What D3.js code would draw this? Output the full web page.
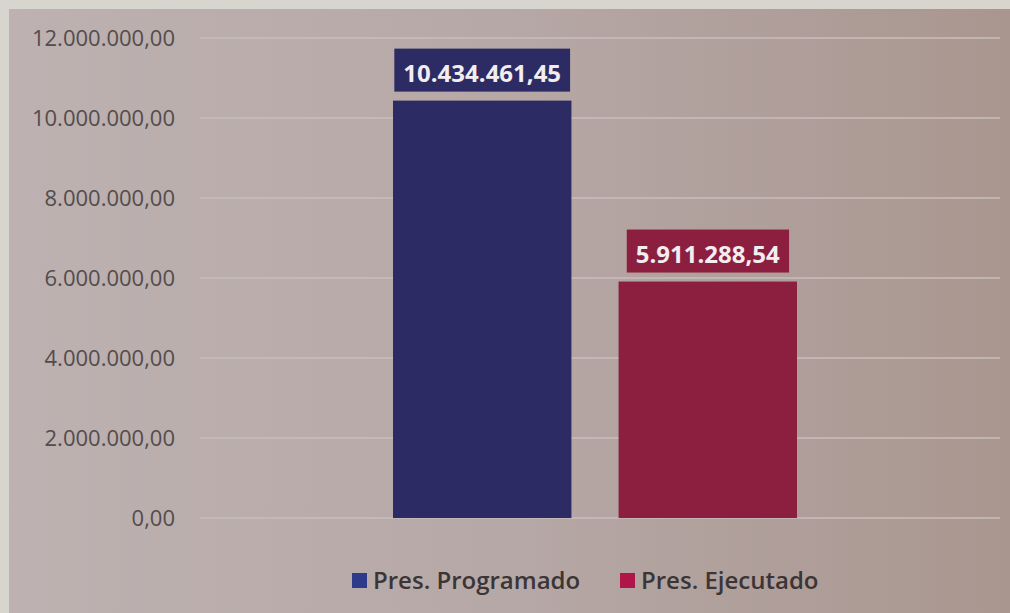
<!DOCTYPE html>
<html>
<head>
<meta charset="utf-8">
<script src="https://cdn.jsdelivr.net/npm/d3@7"></script>
<style>
  body { margin: 0; background: #d8d5cf; }
  svg { display: block; }
</style>
</head>
<body>
<script>
// chart data
var series = ["Pres. Programado", "Pres. Ejecutado"];
var values = [10434461.45, 5911288.54];
var colors = ["#2d2b63", "#8c1e40"];
var yTicks = [0, 2000000, 4000000, 6000000, 8000000, 10000000, 12000000];

function init(){
    var width = 1010;
    var height = 613;

    var esLocale = d3.formatLocale({decimal: ",", thousands: ".", grouping: [3], currency: ["", ""]});
    var fmt = esLocale.format(",.2f");

    var svg = d3.select("body")
                .append("svg")
                .attr("width", width)
                .attr("height", height);

    // photo-like background
    var defs = svg.append("defs");
    var grad = defs.append("linearGradient")
        .attr("id", "bg")
        .attr("x1", "0").attr("x2", "1").attr("y1", "0").attr("y2", "0");
    grad.append("stop").attr("offset", "0").attr("stop-color", "#bdb1b1");
    grad.append("stop").attr("offset", "0.5").attr("stop-color", "#b6a8a6");
    grad.append("stop").attr("offset", "1").attr("stop-color", "#a9968f");

    svg.append("rect")
        .attr("x", 0).attr("y", 0)
        .attr("width", width).attr("height", height)
        .attr("fill", "#d8d5cf");
    svg.append("rect")
        .attr("x", 9).attr("y", 9)
        .attr("width", width - 9).attr("height", height - 9)
        .attr("fill", "url(#bg)");

    var y = d3.scaleLinear()
        .domain([0, 12000000])
        .range([518, 38]);

    var x = d3.scaleBand()
        .domain(series)
        .range([393, 797])
        .paddingInner(0.209)
        .paddingOuter(0);

    // gridlines
    svg.append("g")
        .selectAll("line")
        .data(yTicks)
        .enter()
        .append("line")
        .attr("x1", 200)
        .attr("x2", 1000)
        .attr("y1", function(d) { return y(d); })
        .attr("y2", function(d) { return y(d); })
        .attr("stroke", "#c9bebd")
        .attr("stroke-width", 1.5);

    // y axis labels
    var yAxis = d3.axisLeft(y)
        .tickValues(yTicks)
        .tickFormat(fmt)
        .tickSize(0)
        .tickPadding(0);

    var gy = svg.append("g")
        .attr("transform", "translate(175,0)")
        .call(yAxis);
    gy.select(".domain").remove();
    gy.selectAll("text")
        .attr("font-family", "Open Sans, sans-serif")
        .attr("font-size", 22)
        .attr("fill", "#534c4c");

    // bars
    svg.append("g")
        .selectAll("rect")
        .data(values)
        .enter()
        .append("rect")
        .attr("x", function(d, i) { return x(series[i]); })
        .attr("y", function(d) { return y(d); })
        .attr("width", x.bandwidth())
        .attr("height", function(d) { return y(0) - y(d); })
        .attr("fill", function(d, i) { return colors[i]; });

    // value labels with boxes
    var labels = svg.append("g")
        .selectAll("g")
        .data(values)
        .enter()
        .append("g");

    labels.each(function(d, i) {
        var g = d3.select(this);
        var cx = x(series[i]) + x.bandwidth() / 2;
        var text = g.append("text")
            .attr("x", cx)
            .attr("y", y(d) - 19)
            .attr("text-anchor", "middle")
            .attr("font-family", "Open Sans, sans-serif")
            .attr("font-weight", "bold")
            .attr("font-size", 24)
            .attr("fill", "#f2eef0")
            .text(fmt(d));
        var bb = text.node().getBBox();
        g.insert("rect", "text")
            .attr("x", bb.x - 9)
            .attr("y", y(d) - 52)
            .attr("width", bb.width + 18)
            .attr("height", 43)
            .attr("fill", colors[i]);
    });

    // legend
    var legend = svg.append("g");
    var lx = [352, 620];
    series.forEach(function(s, i) {
        legend.append("rect")
            .attr("x", lx[i])
            .attr("y", 573)
            .attr("width", 15)
            .attr("height", 15)
            .attr("fill", i === 0 ? "#2e3a8a" : "#b0154a");
        legend.append("text")
            .attr("x", lx[i] + 21)
            .attr("y", 589)
            .attr("font-family", "Open Sans, sans-serif")
            .attr("font-weight", 600)
            .attr("font-size", 24)
            .attr("fill", "#3b3536")
            .text(s);
    });
}

window.onload = init;
</script>
</body>
</html>
